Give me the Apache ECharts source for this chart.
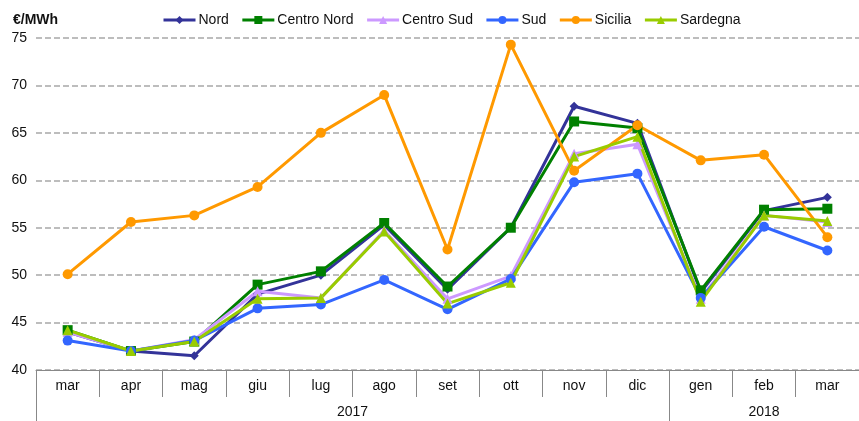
<!DOCTYPE html>
<html>
<head>
<meta charset="utf-8">
<script src="https://cdn.jsdelivr.net/npm/echarts@6/dist/echarts.min.js"></script>
<style>
html,body{margin:0;padding:0;background:#fff;}
#container{width:859px;height:421px;}
</style>
</head>
<body>
<div id="container"></div>
<script>
var months = ['mar','apr','mag','giu','lug','ago','set','ott','nov','dic','gen','feb','mar'];
var years = ['2017','2018'];
var nord       = [44.0, 42.0, 41.5, 48.0, 50.0, 55.3, 48.5, 55.0, 67.8, 66.0, 48.2, 56.8, 58.2];
var centroNord = [44.2, 42.0, 43.0, 49.0, 50.4, 55.5, 48.8, 55.0, 66.2, 65.5, 48.4, 56.9, 57.0];
var centroSud  = [44.0, 42.0, 43.2, 48.3, 47.6, 54.7, 47.5, 49.9, 62.8, 63.8, 47.5, 56.3, 55.6];
var sud        = [43.1, 42.0, 43.1, 46.5, 46.9, 49.5, 46.4, 49.6, 59.8, 60.7, 47.6, 55.1, 52.6];
var sicilia    = [50.1, 55.6, 56.3, 59.3, 65.0, 69.0, 52.7, 74.3, 61.0, 65.8, 62.1, 62.7, 54.0];
var sardegna   = [44.2, 42.0, 43.0, 47.5, 47.6, 54.6, 47.0, 49.2, 62.5, 64.6, 47.2, 56.3, 55.7];

var font = 'Liberation Sans, Arial, sans-serif';

function mkSeries(name, data, color, symbol, size) {
    return {
        name: name,
        type: 'line',
        data: data,
        symbol: symbol,
        symbolSize: size,
        lineStyle: {color: color, width: 3},
        itemStyle: {color: color},
        emphasis: {disabled: true}
    };
}

var myChart = echarts.init(document.getElementById('container'));
var option = {
    animation: false,
    textStyle: {fontFamily: font},
    title: {
        text: '€/MWh', left: 8, top: 8,
        textStyle: {fontSize: 14, fontWeight: 'bold', color: '#111', fontFamily: font}
    },
    legend: {
        top: 8, left: 157,
        itemWidth: 32, itemHeight: 10, itemGap: 12,
        lineStyle: {width: 3},
        textStyle: {fontSize: 14, color: '#111', fontFamily: font, padding: [0, 0, 0, -2]},
        data: ['Nord','Centro Nord','Centro Sud','Sud','Sicilia','Sardegna']
    },
    grid: {left: 36, right: 0, top: 38, bottom: 51, containLabel: false},
    xAxis: [{
        type: 'category',
        data: months,
        boundaryGap: true,
        axisLine: {show: true, lineStyle: {color: '#888', width: 1}},
        axisTick: {show: true, length: 27, interval: 0, alignWithLabel: false, lineStyle: {color: '#888', width: 1}},
        axisLabel: {interval: 0, margin: 9, fontSize: 14, color: '#111', fontFamily: font}
    }, {
        type: 'value',
        min: 0, max: 13,
        position: 'bottom',
        axisLine: {show: false},
        splitLine: {show: false},
        axisTick: {show: true, customValues: [0, 10], length: 51, lineStyle: {color: '#888'}},
        axisLabel: {
            customValues: [5, 11.5], margin: 35, fontSize: 14, color: '#111', fontFamily: font,
            formatter: function (v) { return v < 10 ? years[0] : years[1]; }
        }
    }],
    yAxis: {
        type: 'value',
        min: 40, max: 75, interval: 5,
        axisLine: {show: false},
        axisTick: {show: false},
        axisLabel: {margin: 9, fontSize: 14, color: '#111', fontFamily: font},
        splitLine: {lineStyle: {color: '#bdbdbd', width: 2, type: [6, 3]}}
    },
    series: [
        mkSeries('Nord', nord, '#333399', 'diamond', 9),
        mkSeries('Centro Nord', centroNord, '#008000', 'rect', 10),
        mkSeries('Centro Sud', centroSud, '#cc99ff', 'triangle', 10),
        mkSeries('Sud', sud, '#3366ff', 'circle', 10),
        mkSeries('Sicilia', sicilia, '#ff9900', 'circle', 10),
        mkSeries('Sardegna', sardegna, '#99cc00', 'triangle', 10)
    ]
};
myChart.setOption(option, true);
</script>
</body>
</html>
